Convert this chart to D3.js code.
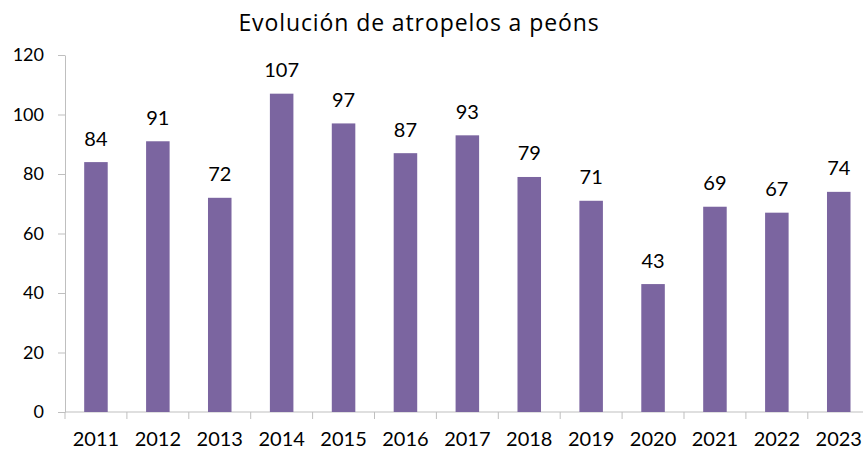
<!DOCTYPE html>
<html>
<head>
<meta charset="utf-8">
<script src="https://cdnjs.cloudflare.com/ajax/libs/d3/7.8.5/d3.min.js"></script>
<style>
  html, body { margin: 0; padding: 0; background: #fff; }
  svg { display: block; font-family: Lato, "Open Sans", sans-serif; }
</style>
</head>
<body>
<div id="chart"></div>
<script>
// Evolución de atropelos a peóns - bar chart

const title = 'Evolución de atropelos a peóns';
const years = ['2011', '2012', '2013', '2014', '2015', '2016', '2017', '2018', '2019', '2020', '2021', '2022', '2023'];
const values = [84, 91, 72, 107, 97, 87, 93, 79, 71, 43, 69, 67, 74];
const yTicks = [0, 20, 40, 60, 80, 100, 120];

const width = 863;
const height = 450;
const plot = { left: 65, right: 869.7, top: 55, bottom: 412 };
const barColor = '#7b65a0';
const axisColor = '#bfbfbf';

const svg = d3.select('#chart')
    .append('svg')
    .attr('width', width)
    .attr('height', height);

const x = d3.scaleBand()
    .domain(years)
    .range([plot.left, plot.right])
    .paddingInner(0.62)
    .paddingOuter(0.31);

const y = d3.scaleLinear()
    .domain([0, 120])
    .range([plot.bottom, plot.top]);

// title
svg.append('text')
    .attr('x', 419)
    .attr('y', 31)
    .attr('text-anchor', 'middle')
    .style('font-family', '"Open Sans", sans-serif')
    .style('font-size', '23px')
    .style('letter-spacing', '0.9px')
    .style('fill', '#000')
    .text(title);

// y axis
const yAxis = svg.append('g')
    .attr('transform', `translate(${plot.left},0)`)
    .call(d3.axisLeft(y).tickValues(yTicks).tickSize(7).tickPadding(14).tickSizeOuter(0));
yAxis.selectAll('path, line').attr('stroke', axisColor);
yAxis.selectAll('text')
    .style('font-size', '18px')
    .style('font-family', 'Lato, sans-serif')
    .attr('fill', '#000');

// x axis - ticks sit on category boundaries
const step = x.step();
const boundaries = d3.range(years.length + 1).map(i => plot.left + i * step);
const xAxis = svg.append('g');
xAxis.append('line')
    .attr('x1', plot.left).attr('x2', plot.right)
    .attr('y1', plot.bottom).attr('y2', plot.bottom)
    .attr('stroke', axisColor);
xAxis.selectAll('.xtick')
    .data(boundaries)
    .enter()
    .append('line')
    .attr('class', 'xtick')
    .attr('x1', d => d).attr('x2', d => d)
    .attr('y1', plot.bottom).attr('y2', plot.bottom + 7)
    .attr('stroke', axisColor);
xAxis.selectAll('.xlabel')
    .data(years)
    .enter()
    .append('text')
    .attr('class', 'xlabel')
    .attr('x', d => x(d) + x.bandwidth() / 2)
    .attr('y', 446)
    .attr('text-anchor', 'middle')
    .style('font-size', '20px')
    .text(d => d);

// bars
const data = years.map((yr, i) => ({ year: yr, value: values[i] }));

svg.selectAll('.bar')
    .data(data)
    .enter()
    .append('rect')
    .attr('class', 'bar')
    .attr('x', d => x(d.year))
    .attr('y', d => y(d.value))
    .attr('width', x.bandwidth())
    .attr('height', d => y(0) - y(d.value))
    .attr('fill', barColor);

// value labels
svg.selectAll('.value-label')
    .data(data)
    .enter()
    .append('text')
    .attr('class', 'value-label')
    .attr('x', d => x(d.year) + x.bandwidth() / 2)
    .attr('y', d => y(d.value) - 16.5)
    .attr('text-anchor', 'middle')
    .style('font-size', '20px')
    .text(d => d.value);
</script>
</body>
</html>
